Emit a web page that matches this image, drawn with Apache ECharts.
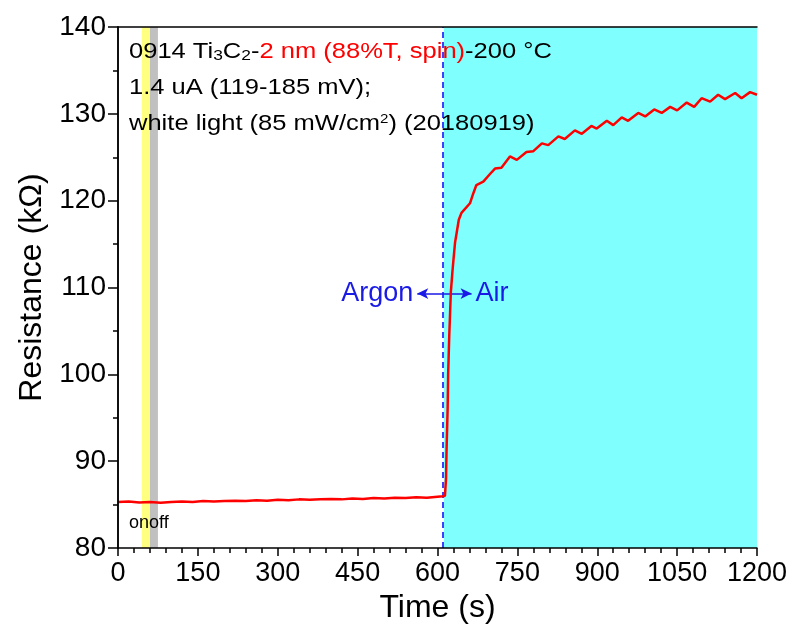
<!DOCTYPE html>
<html>
<head>
    <meta charset="UTF-8"/>
    <title>ECharts</title>
    <script src="https://cdn.jsdelivr.net/npm/echarts@6/dist/echarts.min.js"></script>
</head>
<body style="margin:0">
<div id="main" style="width: 794px;height:636px;"></div>
<script>
    // time (s) and resistance (kOhm)
    var time = [0, 20, 40, 60, 80, 100, 120, 140, 160, 180, 200, 220, 240, 260, 280, 300, 320, 340, 360, 380,
        400, 420, 440, 460, 480, 500, 520, 540, 560, 580, 600, 610, 614,
        616, 617, 619, 620, 622, 625, 628, 630, 633, 636, 640, 645, 648, 661, 667, 673, 686, 699, 708, 720,
        736, 749, 767, 780, 796, 808, 827, 839, 858, 871, 889, 899, 918, 930, 946, 958, 977, 990,
        1007, 1021, 1037, 1050, 1068, 1082, 1096, 1112, 1127, 1140, 1159, 1171, 1187, 1200];
    var resistance = [85.3, 85.35, 85.25, 85.3, 85.2, 85.3, 85.35, 85.3, 85.4, 85.35, 85.4, 85.45, 85.4, 85.5, 85.45, 85.55, 85.5, 85.6, 85.55, 85.6,
        85.65, 85.6, 85.7, 85.65, 85.75, 85.7, 85.8, 85.75, 85.85, 85.8, 85.9, 85.95, 86.0,
        88, 91.3, 96, 100, 104.3, 109.4, 111.8, 113.2, 115.2, 116.3, 117.8, 118.6, 118.8, 119.7, 120.8, 121.8, 122.2, 123.1, 123.7, 123.8,
        125.1, 124.7, 125.6, 125.7, 126.6, 126.4, 127.4, 127.1, 128.1, 127.7, 128.6, 128.3, 129.2, 128.7, 129.6, 129.2, 130.1, 129.7,
        130.5, 130.1, 130.8, 130.4, 131.3, 130.8, 131.8, 131.4, 132.2, 131.7, 132.4, 131.8, 132.5, 132.2];

    var lightOn = [45, 60];      // yellow band
    var lightOff = [60, 75];     // gray band
    var airRange = [612, 1200];  // cyan band
    var switchTime = 610;
    var arrowY = 109.3;

    var points = [];
    for (var i = 0; i < time.length; i++) points.push([time[i], resistance[i]]);

    var myChart = echarts.init(document.getElementById('main'));
    var font = 'Arial, "Liberation Sans", sans-serif';
    var blue = '#1a1ae6';

    option = {
        animation: false,
        backgroundColor: '#fff',
        grid: {left: 118, right: 37, top: 27, bottom: 88},
        xAxis: [{
            type: 'value', min: 0, max: 1200, interval: 150,
            name: 'Time (s)', nameLocation: 'middle', nameGap: 44,
            nameTextStyle: {fontFamily: font, fontSize: 32, color: '#000'},
            axisLine: {lineStyle: {color: '#000', width: 1.5}},
            axisTick: {length: 8, lineStyle: {color: '#000', width: 1.5}},
            minorTick: {show: true, splitNumber: 5, length: 5, lineStyle: {color: '#000', width: 1.5}},
            axisLabel: {fontFamily: font, fontSize: 27, color: '#000', margin: 12,
                formatter: function (v) { return String(v); }},
            splitLine: {show: false}, z: 10
        }, {
            type: 'value', min: 0, max: 1200, position: 'top',
            axisLine: {lineStyle: {color: '#000', width: 1.5}},
            axisTick: {show: false}, axisLabel: {show: false}, splitLine: {show: false}, z: 10
        }],
        yAxis: [{
            type: 'value', min: 80, max: 140, interval: 10,
            name: 'Resistance (kΩ)', nameLocation: 'middle', nameGap: 70,
            nameTextStyle: {fontFamily: font, fontSize: 32, color: '#000'},
            axisLine: {lineStyle: {color: '#000', width: 1.5}},
            axisTick: {length: 10, lineStyle: {color: '#000', width: 1.5}},
            minorTick: {show: true, splitNumber: 2, length: 5, lineStyle: {color: '#000', width: 1.5}},
            axisLabel: {fontFamily: font, fontSize: 28, color: '#000', margin: 12},
            splitLine: {show: false}, z: 10
        }, {
            type: 'value', min: 80, max: 140, position: 'right',
            axisLine: {show: true, lineStyle: {color: '#000', width: 1.5}},
            axisTick: {show: false}, axisLabel: {show: false}, splitLine: {show: false}, z: 10
        }],
        series: [{
            type: 'line',
            data: points,
            showSymbol: false,
            lineStyle: {color: '#ff0000', width: 2.5},
            z: 5,
            markArea: {
                silent: true,
                data: [
                    [{xAxis: lightOn[0], itemStyle: {color: '#ffff80'}}, {xAxis: lightOn[1]}],
                    [{xAxis: lightOff[0], itemStyle: {color: '#c0c0c0'}}, {xAxis: lightOff[1]}],
                    [{xAxis: airRange[0], itemStyle: {color: '#80ffff'}}, {xAxis: airRange[1]}]
                ]
            },
            markLine: {
                silent: true,
                animation: false,
                data: [
                    [{coord: [switchTime, 80], symbol: 'none', lineStyle: {color: '#0000ff', width: 1.5, type: [6, 4]}},
                        {coord: [switchTime, 140], symbol: 'none'}],
                    [{coord: [switchTime, arrowY], symbol: 'none', lineStyle: {color: blue, width: 1.5, type: 'solid'},
                        label: {show: true, position: 'end', formatter: 'Argon', color: blue, fontFamily: font, fontSize: 27, distance: 4}},
                        {coord: [562, arrowY], symbol: 'arrow', symbolSize: [8, 11]}],
                    [{coord: [switchTime, arrowY], symbol: 'none', lineStyle: {color: blue, width: 1.5, type: 'solid'},
                        label: {show: true, position: 'end', formatter: 'Air', color: blue, fontFamily: font, fontSize: 27, distance: 4}},
                        {coord: [664, arrowY], symbol: 'arrow', symbolSize: [8, 11]}]
                ]
            }
        }],
        graphic: [
            {type: 'text', x: 129, y: 52, scaleX: 1.16, z: 20, style: {
                text: '{k|0914 Ti}{s|3}{k|C}{s|2}{k|-}{r|2 nm (88%T, spin)}{k|-200 °C}',
                verticalAlign: 'middle',
                rich: {
                    k: {fontFamily: font, fontSize: 22, fill: '#000', verticalAlign: 'bottom'},
                    s: {fontFamily: font, fontSize: 15, fill: '#000', verticalAlign: 'bottom'},
                    r: {fontFamily: font, fontSize: 22, fill: '#ff0000', verticalAlign: 'bottom'}
                }
            }},
            {type: 'text', x: 129, y: 88, scaleX: 1.16, z: 20, style: {
                text: '1.4 uA (119-185 mV);', fontFamily: font, fontSize: 22, fill: '#000', verticalAlign: 'middle'
            }},
            {type: 'text', x: 129, y: 124, scaleX: 1.16, z: 20, style: {
                text: '{k|white light (85 mW/cm}{p|2}{k|) (20180919)}',
                verticalAlign: 'middle',
                rich: {
                    k: {fontFamily: font, fontSize: 22, fill: '#000', verticalAlign: 'bottom'},
                    p: {fontFamily: font, fontSize: 13, fill: '#000', verticalAlign: 'top'}
                }
            }},
            {type: 'text', x: 129, y: 523, z: 20, style: {
                text: 'onoff', fontFamily: font, fontSize: 18, fill: '#000', verticalAlign: 'middle'
            }}
        ]
    };

    myChart.setOption(option);
</script>
</body>
</html>
